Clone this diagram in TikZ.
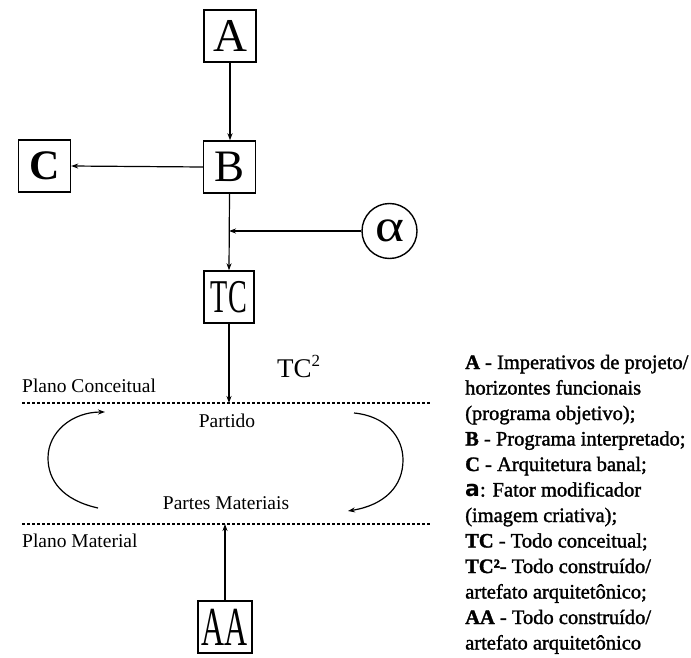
\documentclass[tikz,border=0pt]{standalone}
\usepackage{fontspec}
\usepackage{graphicx}
\setmainfont{Liberation Serif}
\newfontfamily\legfont[FakeBold=1.5]{Liberation Serif}
\newfontfamily\heavyfont{DejaVu Sans}
\usetikzlibrary{arrows.meta}
\begin{document}
\begin{tikzpicture}[x=1pt,y=-1pt,
  box/.style={draw, line width=1.4pt, minimum width=52pt, minimum height=52pt, inner sep=0pt},
  conn/.style={line width=1.2pt, -{Stealth[length=7pt,width=5pt]}},
  plane/.style={line width=1.2pt, dash pattern=on 3pt off 2pt},
  lbl/.style={font=\fontsize{19.5}{20}\selectfont, inner sep=0pt, anchor=base west},
  leg/.style={font=\legfont\fontsize{20.5}{22}\selectfont, inner sep=0pt, anchor=base west}]
\useasboundingbox (0,0) rectangle (691,658);

% boxes
\node[box, font=\fontsize{47}{47}\selectfont] (A) at (230,36) {A};
\node[box, font=\fontsize{45}{45}\selectfont] (B) at (229.5,167) {B};
\node[box, font=\bfseries\fontsize{42}{42}\selectfont] (C) at (44.5,166) {C};
\node[draw, circle, line width=1.4pt, minimum size=55pt, inner sep=0pt, font=\fontsize{46}{46}\selectfont] (alpha) at (389.5,231) {\scalebox{1.2}[1]{α}};
\node[box, minimum width=50pt, font=\fontsize{47}{47}\selectfont] (TC) at (229,297) {\scalebox{0.6}[1]{TC}};
\node[box, minimum width=54pt, minimum height=52pt, font=\fontsize{55}{55}\selectfont] (AA) at (225,627) {\scalebox{0.58}[1]{AA}};

\node[inner sep=0pt, anchor=base west, font=\fontsize{27}{27}\selectfont] (TC2) at (277,377) {TC\raisebox{11pt}{\fontsize{17}{17}\selectfont 2}};

% planes
\coordinate (u1) at (22,403);
\coordinate (u2) at (430,403);
\coordinate (l1) at (22,524);
\coordinate (l2) at (430,524);
\draw[plane] (u1) -- (u2);
\draw[plane] (l1) -- (l2);

\node[lbl] (pc) at (22,392) {Plano Conceitual};
\node[lbl, anchor=base] (partido) at (227,427) {Partido};
\node[lbl, anchor=base] (partes) at (226,509) {Partes Materiais};
\node[lbl] (pm) at (22,547) {Plano Material};

% connectors
\coordinate (j) at (TC.north |- alpha.west);
\draw[conn] (A.south) -- (A.south |- B.north);
\draw[conn] (B.west) -- (C.east);
\draw[conn] (B.south) -- (TC.north);
\draw[conn] (alpha.west) -- (j);
\draw[conn] (TC.south) -- (TC.south |- u1);
\draw[conn] (AA.north) -- (AA.north |- l1);

% cycle arcs
\coordinate (la) at (98,508);
\coordinate (lb) at (105,412);
\coordinate (ra) at (354,413);
\coordinate (rb) at (348,511);
\draw[conn] (la) .. controls (62,500) and (48,480) .. (48,458) .. controls (48,432) and (72,412) .. (lb);
\draw[conn] (ra) .. controls (386,416) and (403,437) .. (403,460) .. controls (403,486) and (385,505) .. (rb);

% legend
\foreach \t [count=\i] in {
  {\textbf{A} - Imperativos de projeto/},
  {horizontes funcionais},
  {(programa objetivo);},
  {\textbf{B} - Programa interpretado;},
  {\textbf{C} - Arquitetura banal;},
  {{\heavyfont\bfseries\fontsize{22}{22}\selectfont a}: Fator modificador},
  {(imagem criativa);},
  {\textbf{TC} - Todo conceitual;},
  {\textbf{TC²}- Todo construído/},
  {artefato arquitetônico;},
  {\textbf{AA} - Todo construído/},
  {artefato arquitetônico}}
  \node[leg] (leg\i) at (465,{369+25.5*(\i-1)}) {\t};
\end{tikzpicture}
\end{document}
